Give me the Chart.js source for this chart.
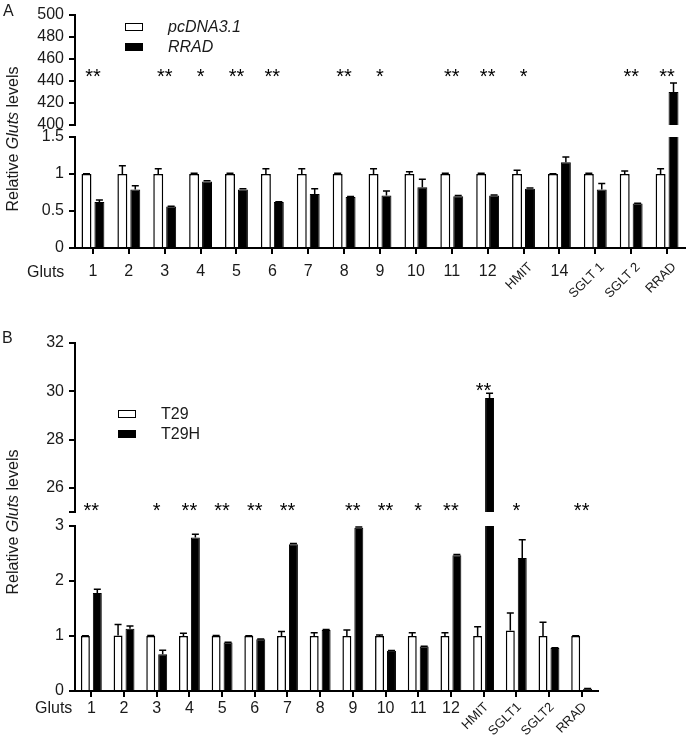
<!DOCTYPE html>
<html>
<head>
<meta charset="utf-8">
<script src="https://cdn.jsdelivr.net/npm/chart.js@4.4.0/dist/chart.umd.min.js"></script>
<style>
  body { margin: 0; background: #fff; }
  #wrap { position: relative; width: 693px; height: 737px; overflow: hidden; font-family: 'Liberation Sans', Arial, sans-serif; color: #1a1a1a; }
  canvas { position: absolute; left: 0; }
  .txt { position: absolute; font-size: 16px; white-space: nowrap; line-height: 1; }
  .ytitle { position: absolute; font-size: 16px; white-space: nowrap; transform: translate(-50%, -50%) rotate(-90deg); line-height: 1; }
  .lg { position: absolute; font-size: 16px; line-height: 1; }
  .box { position: absolute; width: 18px; height: 8px; border: 1.5px solid #000; box-sizing: border-box; }
</style>
</head>
<body>
<div id="wrap">
  <canvas id="aTop" width="693" height="140" style="top:0"></canvas>
  <canvas id="aLow" width="693" height="180" style="top:120px"></canvas>
  <canvas id="bTop" width="693" height="230" style="top:300px"></canvas>
  <canvas id="bLow" width="693" height="227" style="top:510px"></canvas>
  <div class="txt" style="left:3px;top:3px;">A</div>
  <div class="txt" style="left:2px;top:330px;">B</div>
  <div class="ytitle" style="left:13px;top:139px;">Relative <i>Gluts</i> levels</div>
  <div class="ytitle" style="left:13px;top:522px;">Relative <i>Gluts</i> levels</div>
  <div class="txt" style="left:27px;top:264px;">Gluts</div>
  <div class="txt" style="left:35px;top:700px;">Gluts</div>
  <div id="legA"></div>
  <div id="legB"></div>
</div>
<script>
// panel A: pcDNA3.1 vs RRAD
const catsA = ['1','2','3','4','5','6','7','8','9','10','11','12','HMIT','14','SGLT 1','SGLT 2','RRAD'];
const pcdnaA = [1,1,1,1,1,1,1,1,1,1,1,1,1,1,1,1,1];
const pcdnaErrA = [0.005,0.11,0.07,0.01,0.01,0.07,0.07,0.01,0.07,0.03,0.01,0.01,0.05,0.005,0.01,0.04,0.07];
const rradA = [0.62,0.79,0.56,0.90,0.79,0.62,0.73,0.69,0.71,0.82,0.70,0.71,0.80,1.16,0.79,0.60,430];
const rradErrA = [0.03,0.05,0.005,0.01,0.01,0.005,0.07,0.005,0.06,0.11,0.01,0.005,0.01,0.07,0.08,0.005,8];
const starsA = ['**','','**','*','**','**','','**','*','','**','**','*','','','**','**'];

// panel B: T29 vs T29H
const catsB = ['1','2','3','4','5','6','7','8','9','10','11','12','HMIT','SGLT1','SGLT2','RRAD'];
const t29B = [1,1.01,1,1,1,1,1,1,1,1,1,1,1,1.10,1,1];
const t29ErrB = [0.005,0.2,0.01,0.05,0.01,0.005,0.08,0.06,0.11,0.02,0.06,0.06,0.17,0.32,0.25,0.005];
const t29hB = [1.78,1.13,0.67,2.79,0.88,0.94,2.67,1.11,2.97,0.73,0.81,2.47,29.72,2.42,0.78,0.04];
const t29hErrB = [0.07,0.05,0.07,0.06,0.005,0.005,0.01,0.01,0.01,0.005,0.005,0.01,0.2,0.33,0.005,0.005];
const starsB = ['**','','*','**','**','**','**','','**','**','*','**','**','*','','**'];

const FONT = "'Liberation Sans', Arial, sans-serif";
Chart.defaults.color = '#1a1a1a';
Chart.defaults.font.family = FONT;

// error bars, significance stars and slanted category names
const extras = {
  id: 'extras',
  afterDatasetsDraw(chart, args, opts) {
    const ctx = chart.ctx, area = chart.chartArea;
    const y = chart.scales.y, x = chart.scales.x;
    ctx.save();
    ctx.beginPath();
    ctx.rect(area.left, area.top - 1, area.right - area.left, area.bottom - area.top + 1);
    ctx.clip();
    ctx.strokeStyle = '#000';
    ctx.lineWidth = 1.5;
    chart.data.datasets.forEach((ds, i) => {
      chart.getDatasetMeta(i).data.forEach((bar, j) => {
        const v = ds.data[j], e = ds.errors[j];
        if (v == null || !e) return;
        const top = y.getPixelForValue(v + e);
        ctx.beginPath();
        ctx.moveTo(bar.x, bar.y);
        ctx.lineTo(bar.x, top);
        ctx.moveTo(bar.x - 3.5, top);
        ctx.lineTo(bar.x + 3.5, top);
        ctx.stroke();
      });
    });
    ctx.restore();

    if (opts.stars) {
      ctx.save();
      ctx.fillStyle = '#000';
      ctx.font = '20px ' + FONT;
      ctx.textAlign = 'center';
      ctx.textBaseline = 'middle';
      const base = y.getPixelForValue(opts.starLevel);
      opts.stars.forEach((s, j) => {
        if (!s) return;
        let py = base;
        chart.data.datasets.forEach(ds => {
          const v = ds.data[j];
          if (v == null || v < y.min) return;
          py = Math.min(py, y.getPixelForValue(v + ds.errors[j]) - 6);
        });
        ctx.fillText(s, x.getPixelForValue(j), py + 4);
      });
      ctx.restore();
    }

    if (opts.slant) {
      ctx.save();
      ctx.fillStyle = '#1a1a1a';
      ctx.font = '13px ' + FONT;
      ctx.textAlign = 'right';
      ctx.textBaseline = 'middle';
      chart.data.labels.forEach((l, j) => {
        if (!isNaN(l)) return;
        ctx.save();
        ctx.translate(x.getPixelForValue(j) + opts.slant.dx, area.bottom + opts.slant.dy);
        ctx.rotate(-Math.PI / 4);
        ctx.fillText(l, 0, 0);
        ctx.restore();
      });
      ctx.restore();
    }
  }
};

function keepAbove(arr, min) {
  return arr.map(v => (v > min ? v : null));
}

function makeChart(id, o) {
  const datasets = [
    { label: o.names[0], data: o.a, errors: o.aErr, backgroundColor: '#fff', borderColor: '#000', borderWidth: 1.5 },
    { label: o.names[1], data: o.b, errors: o.bErr, backgroundColor: '#000', borderColor: '#000', borderWidth: 1 }
  ];
  return new Chart(document.getElementById(id), {
    type: 'bar',
    data: { labels: o.cats, datasets: datasets },
    plugins: [extras],
    options: {
      responsive: false,
      animation: false,
      devicePixelRatio: 1,
      categoryPercentage: o.catPct,
      barPercentage: o.barPct,
      layout: { padding: o.padding },
      plugins: {
        legend: { display: false },
        tooltip: { enabled: false },
        extras: { stars: o.stars, starLevel: o.starLevel, slant: o.slant }
      },
      scales: {
        x: {
          display: o.showX,
          offset: true,
          grid: { display: true, offset: false, drawOnChartArea: false, drawTicks: true, tickLength: 6, color: '#000', lineWidth: 2 },
          border: { display: true, color: '#000', width: 2 },
          ticks: {
            autoSkip: false, maxRotation: 0, minRotation: 0, padding: o.xPad,
            font: { size: 16 },
            callback: function (v) { const l = this.getLabelForValue(v); return isNaN(l) ? '' : l; }
          },
          afterFit: s => { s.height = o.xHeight; }
        },
        y: {
          min: o.min, max: o.max,
          grid: { display: true, drawOnChartArea: false, drawTicks: true, tickLength: 6, color: '#000', lineWidth: 2 },
          border: { display: true, color: '#000', width: 2 },
          ticks: {
            stepSize: o.step, padding: 5, font: { size: 16 },
            callback: v => (o.hideTick === v ? '' : v)
          },
          afterFit: s => { s.width = 75; }
        }
      }
    }
  });
}

const common = { names: ['pcDNA3.1', 'RRAD'], cats: catsA, catPct: 0.72, barPct: 0.77, aErr: pcdnaErrA, bErr: rradErrA };
makeChart('aTop', Object.assign({}, common, {
  a: keepAbove(pcdnaA, 400), b: keepAbove(rradA, 400),
  min: 400, max: 500, step: 20, showX: false, xHeight: 0,
  padding: { top: 12, bottom: 15, right: 8, left: 0 },
  stars: starsA, starLevel: 447
}));
makeChart('aLow', Object.assign({}, common, {
  a: pcdnaA, b: rradA,
  min: 0, max: 1.5, step: 0.5, showX: true, xHeight: 52, xPad: 8,
  padding: { top: 17, bottom: 0, right: 8, left: 0 },
  slant: { dx: 7, dy: 17 }
}));

const commonB = { names: ['T29', 'T29H'], cats: catsB, catPct: 0.73, barPct: 0.75, aErr: t29ErrB, bErr: t29hErrB };
makeChart('bTop', Object.assign({}, commonB, {
  a: keepAbove(t29B, 25), b: keepAbove(t29hB, 25),
  min: 25, max: 32, step: 2, hideTick: 25, showX: false, xHeight: 0,
  padding: { top: 43, bottom: 18, right: 95, left: 0 },
  stars: starsB, starLevel: 25.17
}));
makeChart('bLow', Object.assign({}, commonB, {
  a: t29B, b: t29hB,
  min: 0, max: 3, step: 1, showX: true, xHeight: 46, xPad: 2,
  padding: { top: 16, bottom: 0, right: 95, left: 0 },
  slant: { dx: 3, dy: 14 }
}));

// legends built from the series names
function legend(id, names, left, top, italic) {
  const el = document.getElementById(id);
  names.forEach((n, i) => {
    const rowTop = top + i * 20;
    el.innerHTML += '<div class="box" style="left:' + left + 'px;top:' + (rowTop - 4) + 'px;background:' + (i ? '#000' : '#fff') + '"></div>' +
      '<div class="lg" style="left:' + (left + 43) + 'px;top:' + (rowTop - 8) + 'px;' + (italic ? 'font-style:italic;' : '') + '">' + n + '</div>';
  });
}
legend('legA', ['pcDNA3.1', 'RRAD'], 125, 27, true);
legend('legB', ['T29', 'T29H'], 118, 414, false);
</script>
</body>
</html>
